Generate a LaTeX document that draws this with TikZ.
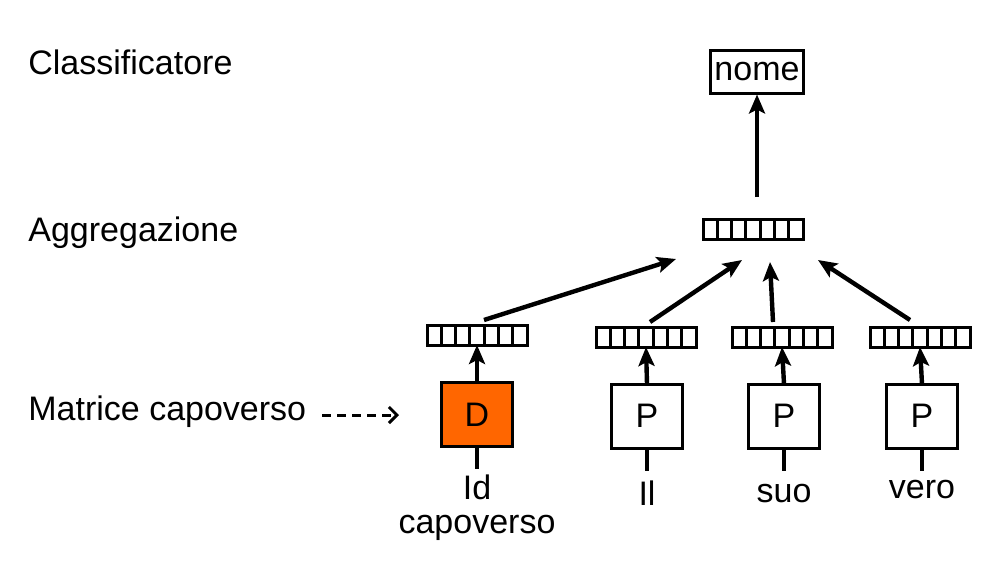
\documentclass[tikz,border=0pt]{standalone}
\usepackage{fontspec}
\setmainfont{Liberation Sans}
\usetikzlibrary{calc,arrows.meta}
\definecolor{dorange}{RGB}{255,102,0}
\begin{document}
\begin{tikzpicture}[x=0.5pt,y=-0.5pt,
  every node/.style={font=\fontsize{17}{20}\selectfont},
  lbl/.style={anchor=west, inner sep=0},
  word/.style={inner sep=0},
  vec/.style={draw, line width=1.5pt, minimum width=50pt, minimum height=10pt, inner sep=0, outer sep=0,
    path picture={\foreach \i in {1,...,6}{\draw[line width=1.5pt] ($(path picture bounding box.south west)!\i/7!(path picture bounding box.south east)$) -- ($(path picture bounding box.north west)!\i/7!(path picture bounding box.north east)$);}}},
  cell/.style={draw, line width=1.5pt, minimum width=35.5pt, minimum height=32pt, inner sep=0, outer sep=0},
  arr/.style={line width=2.2pt, -{Stealth[length=9.5pt,width=8pt,inset=2pt]}},
  stem/.style={line width=2.4pt},
  dashedarr/.style={line width=1.5pt, dash pattern=on 4.5pt off 3pt, -{Straight Barb[length=4pt,width=8pt]}}
]
\useasboundingbox (0,0) rectangle (1000,562);
% side labels
\node[lbl] (lc) at (28,62) {Classificatore};
\node[lbl] (la) at (28,233) {Aggregazione};
\node[lbl] (lm) at (28,412) {Matrice capoverso};
% top
\node[draw, line width=1.5pt, minimum width=46.5pt, minimum height=21.5pt, inner sep=0] (nome) at (757,71.5) {nome};
\node[vec] (agg) at (753,229) {};
\coordinate (g0) at (757,197);
\draw[arr] (g0) -- (nome.south);
% vectors
\node[vec] (v1) at (477,335) {};
\node[vec] (v2) at (646,337) {};
\node[vec] (v3) at (782,337) {};
\node[vec] (v4) at (920,337) {};
% boxes
\node[cell, fill=dorange] (b1) at (477,414.5) {D};
\node[cell] (b2) at (647,416) {P};
\node[cell] (b3) at (784,416) {P};
\node[cell] (b4) at (922,416) {P};
\foreach \i in {1,...,4}{\draw[arr] (b\i.north) -- (v\i.south);}
% input stems
\coordinate (s1) at (477,469);
\coordinate (s2) at (647,471);
\coordinate (s3) at (784,471);
\coordinate (s4) at (922,471);
\foreach \i in {1,...,4}{\draw[stem] (b\i.south) -- (s\i);}
% words
\node[word, align=center] (w1) at (477,508) {Id\\[-3pt]capoverso};
\node[word] (w2) at (647,493) {Il};
\node[word] (w3) at (784,494) {suo};
\node[word] (w4) at (922,490) {vero};
% aggregation arrows
\coordinate (t1) at (484,320);
\coordinate (t2) at (650,322);
\coordinate (t3) at (773,322);
\coordinate (t4) at (910,320);
\coordinate (h1) at (676,259);
\coordinate (h2) at (742,260);
\coordinate (h3) at (770,262);
\coordinate (h4) at (818,260);
\foreach \i in {1,...,4}{\draw[arr] (t\i) -- (h\i);}
% dashed arrow
\coordinate (d0) at (322,415);
\coordinate (d1) at (399,415);
\draw[dashedarr] (d0) -- (d1);
\end{tikzpicture}
\end{document}
